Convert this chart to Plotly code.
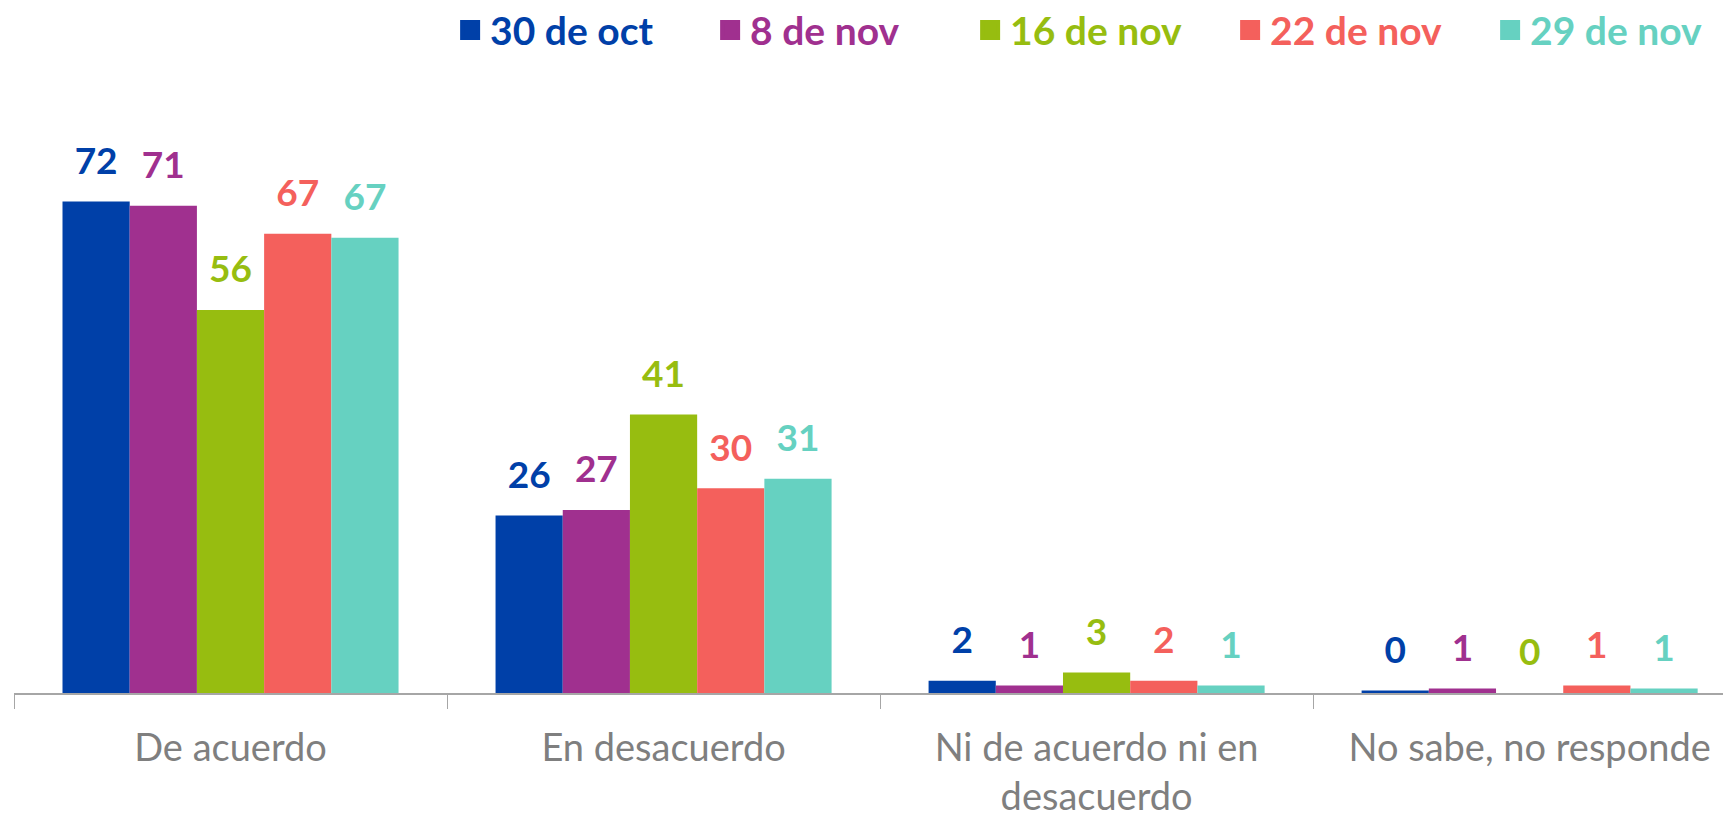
import plotly.graph_objects as go

categories = ["De acuerdo", "En desacuerdo", "Ni de acuerdo ni en<br>desacuerdo", "No sabe, no responde"]
series_names = ["30 de oct", "8 de nov", "16 de nov", "22 de nov", "29 de nov"]
colors = ["#0040A8", "#A0308F", "#97BD10", "#F4605C", "#66D1C1"]

v_30oct = [72.0, 26.0, 1.8, 0.35]
v_8nov = [71.4, 26.8, 1.1, 0.65]
v_16nov = [56.1, 40.8, 3.0, 0.0]
v_22nov = [67.3, 30.0, 1.8, 1.1]
v_29nov = [66.7, 31.4, 1.1, 0.65]

labels_30oct = ["72", "26", "2", "0"]
labels_8nov = ["71", "27", "1", "1"]
labels_16nov = ["56", "41", "3", "0"]
labels_22nov = ["67", "30", "2", "1"]
labels_29nov = ["67", "31", "1", "1"]

values = [v_30oct, v_8nov, v_16nov, v_22nov, v_29nov]
labels = [labels_30oct, labels_8nov, labels_16nov, labels_22nov, labels_29nov]

FONT = "Lato"
fig = go.Figure()
for i, (name, col, vals) in enumerate(zip(series_names, colors, values)):
    fig.add_trace(go.Bar(
        x=categories, y=vals, name=name,
        marker=dict(color=col, line=dict(width=0)), offsetgroup=str(i),
        hoverinfo="skip", showlegend=False,
    ))
for i, (name, col, vals, labs) in enumerate(zip(series_names, colors, values, labels)):
    fig.add_trace(go.Scatter(
        x=categories, y=vals, mode="markers+text", text=labs,
        textposition="top center", offsetgroup=str(i),
        marker=dict(size=28, color="rgba(0,0,0,0)"),
        textfont=dict(family=FONT, size=37, color=col, weight="bold"),
        showlegend=False, hoverinfo="skip", cliponaxis=False,
    ))
# legend entries (square swatches)
for i, (name, col) in enumerate(zip(series_names, colors)):
    fig.add_trace(go.Scatter(
        x=[None], y=[None], mode="markers", offsetgroup=str(i),
        name=f"<span style='color:{col}'><b>{name}</b></span>",
        marker=dict(symbol="square", size=21, color=col, line=dict(width=4, color=col)),
        showlegend=True, hoverinfo="skip",
    ))

fig.update_layout(
    width=1723, height=810,
    barmode="group", bargap=0.224, bargroupgap=0,
    scattermode="group", scattergap=0.224,
    plot_bgcolor="white", paper_bgcolor="white",
    margin=dict(l=6, r=0, t=139, b=125, autoexpand=False),
    font=dict(family=FONT),
    showlegend=True,
    legend=dict(orientation="h", x=0.254, xanchor="left", y=1.214, yref="paper",
                yanchor="middle", font=dict(family=FONT, size=39),
                entrywidth=215, entrywidthmode="pixels", itemsizing="trace",
                bgcolor="rgba(0,0,0,0)", traceorder="normal"),
    xaxis=dict(
        type="category", range=[-0.5, 3.465], automargin=False,
        showline=True, linecolor="#A6A6A6", linewidth=2,
        ticks="outside", tickson="boundaries", ticklen=14, tickcolor="#A6A6A6", tickwidth=1,
        ticklabelstandoff=20,
        tickfont=dict(family=FONT, size=38, color="#7F7F7F"),
        showgrid=False, zeroline=False,
    ),
    yaxis=dict(range=[0, 80], visible=False, showgrid=False, zeroline=False),
)

fig.write_html("out.html")
